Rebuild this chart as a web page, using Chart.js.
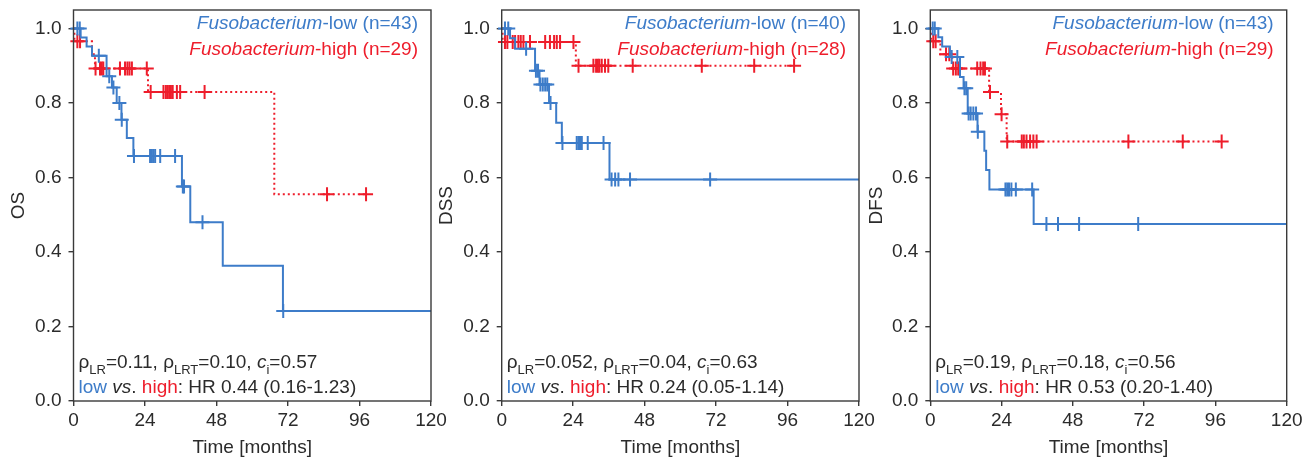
<!DOCTYPE html>
<html>
<head>
<meta charset="utf-8">
<script src="https://cdn.jsdelivr.net/npm/chart.js@4/dist/chart.umd.min.js"></script>
<style>
  html, body { margin: 0; padding: 0; background: #fff; }
  #wrap { position: relative; width: 1316px; height: 461px; }
  #wrap canvas { position: absolute; left: 0; top: 0; }
</style>
</head>
<body>
<div id="wrap">
  <canvas id="os" width="1316" height="461"></canvas>
  <canvas id="dss" width="1316" height="461"></canvas>
  <canvas id="dfs" width="1316" height="461"></canvas>
</div>
<script>
const blue = '#3d7cc9';
const red = '#ee1d2b';
const ink = '#2b2b2b';

const xTicks = [0, 24, 48, 72, 96, 120];
const yTicks = [0, 0.2, 0.4, 0.6, 0.8, 1.0];

// OS
const osLowT = [0, 2.4, 4.4, 6.2, 11.1, 12.9, 14.5, 16.1, 17.9, 20.1, 36.4, 39.2, 50.1, 70.3, 120];
const osLowS = [1, 0.976, 0.952, 0.927, 0.872, 0.842, 0.800, 0.755, 0.706, 0.658, 0.576, 0.480, 0.363, 0.242, 0.242];
const osLowCens = [1.3, 2.1, 8.5, 12.0, 13.4, 15.4, 16.2, 20.3, 25.7, 26.3, 26.8, 27.4, 29.1, 34.1, 36.7, 37.1, 43.3, 70.4];
const osHighT = [0, 0.3, 6.2, 7.2, 25.0, 67.4, 98.2];
const osHighS = [1, 0.966, 0.931, 0.893, 0.830, 0.555, 0.555];
const osHighCens = [1.3, 2.2, 7.4, 8.9, 9.5, 10.0, 15.6, 17.3, 18.1, 18.8, 19.6, 24.6, 25.9, 30.2, 31.0, 31.5, 32.1, 32.7, 33.3, 34.7, 35.8, 44.0, 85.1, 98.2];
const osN = ['43', '29'];
const osStats = ['0.11', '0.10', '0.57'];
const osHR = 'HR 0.44 (0.16-1.23)';

// DSS
const dssLowT = [0, 2.8, 4.5, 11.2, 12.7, 15.9, 18.3, 20.2, 36.2, 120];
const dssLowS = [1, 0.974, 0.946, 0.887, 0.850, 0.800, 0.747, 0.693, 0.595, 0.595];
const dssLowCens = [1.1, 2.2, 8.2, 11.5, 12.2, 13.0, 13.8, 14.6, 15.3, 16.4, 20.4, 25.2, 25.8, 26.3, 26.9, 28.9, 34.2, 36.9, 38.1, 39.2, 43.1, 70.0];
const dssHighT = [0, 0.3, 24.9, 98.2];
const dssHighS = [1, 0.964, 0.900, 0.900];
const dssHighCens = [1.1, 1.9, 3.7, 4.5, 5.6, 6.4, 7.3, 9.5, 14.6, 16.2, 17.6, 18.5, 19.6, 24.1, 25.8, 30.8, 31.7, 32.3, 32.8, 33.6, 34.7, 35.8, 44.0, 67.2, 84.8, 98.2];
const dssN = ['40', '28'];
const dssStats = ['0.052', '0.04', '0.63'];
const dssHR = 'HR 0.24 (0.05-1.14)';

// DFS
const dfsLowT = [0, 2.7, 4.0, 6.6, 10.0, 11.2, 12.6, 15.9, 18.2, 18.8, 19.9, 34.8, 120];
const dfsLowS = [1, 0.977, 0.952, 0.924, 0.870, 0.840, 0.772, 0.723, 0.672, 0.620, 0.568, 0.475, 0.475];
const dfsLowCens = [0.8, 1.5, 7.2, 9.1, 11.5, 12.1, 12.9, 13.6, 14.5, 15.4, 16.0, 25.3, 25.9, 26.5, 27.3, 28.8, 34.3, 39.1, 43.0, 50.1, 70.0];
const dfsHighT = [0, 0.3, 3.4, 7.4, 19.8, 23.8, 25.7, 98.1];
const dfsHighS = [1, 0.966, 0.931, 0.893, 0.830, 0.770, 0.697, 0.697];
const dfsHighCens = [1.0, 1.8, 5.3, 6.4, 7.7, 8.6, 9.4, 9.9, 15.8, 16.9, 17.8, 18.4, 20.1, 24.0, 25.9, 30.8, 31.5, 32.4, 33.6, 34.7, 35.8, 66.7, 85.0, 98.1];
const dfsN = ['43', '29'];
const dfsStats = ['0.19', '0.18', '0.56'];
const dfsHR = 'HR 0.53 (0.20-1.40)';

Chart.defaults.font.family = '"Liberation Sans", Arial, sans-serif';
Chart.defaults.font.size = 19;
Chart.defaults.color = ink;

function survAt(times, surv, t) {
  let v = surv[0];
  for (let i = 0; i < times.length; i++) {
    if (times[i] <= t) v = surv[i];
  }
  return v;
}

function font(size, italic) {
  return (italic ? 'italic ' : '') + size + 'px "Liberation Sans", Arial, sans-serif';
}

// draw a line made of pieces with their own font/colour/offset
function drawRich(ctx, x, y, segs, align) {
  let total = 0;
  segs.forEach(s => {
    ctx.font = font(s.size || 19, s.it);
    s.w = ctx.measureText(s.t).width;
    total += s.w;
  });
  let cx = align === 'right' ? x - total : x;
  segs.forEach(s => {
    ctx.font = font(s.size || 19, s.it);
    ctx.fillStyle = s.c || ink;
    ctx.fillText(s.t, cx, y + (s.dy || 0));
    cx += s.w;
  });
}

const kmDecor = {
  id: 'kmDecor',
  afterDatasetsDraw(chart, args, o) {
    const {ctx, chartArea: a} = chart;
    ctx.save();
    ctx.strokeStyle = '#3a3a3a';
    ctx.lineWidth = 1.4;
    ctx.strokeRect(a.left, a.top, a.right - a.left, a.bottom - a.top);
    ctx.textAlign = 'left';
    ctx.textBaseline = 'alphabetic';
    drawRich(ctx, a.right - 13, a.top + 18.5, [
      {t: 'Fusobacterium', it: true, c: blue},
      {t: '-low (n=' + o.n[0] + ')', c: blue}
    ], 'right');
    drawRich(ctx, a.right - 13, a.top + 45, [
      {t: 'Fusobacterium', it: true, c: red},
      {t: '-high (n=' + o.n[1] + ')', c: red}
    ], 'right');
    const sub = {size: 13, dy: 6};
    drawRich(ctx, a.left + 5, a.bottom - 33, [
      {t: 'ρ'}, Object.assign({t: 'LR'}, sub), {t: '=' + o.stats[0] + ', '},
      {t: 'ρ'}, Object.assign({t: 'LRT'}, sub), {t: '=' + o.stats[1] + ', '},
      {t: 'c', it: true}, Object.assign({t: 'i'}, sub), {t: '=' + o.stats[2]}
    ]);
    drawRich(ctx, a.left + 5, a.bottom - 8, [
      {t: 'low', c: blue}, {t: ' '}, {t: 'vs', it: true}, {t: '. '},
      {t: 'high', c: red}, {t: ': ' + o.hr}
    ]);
    ctx.restore();
  }
};

function makeKM(id, title, lowT, lowS, lowCens, highT, highS, highCens, n, stats, hr, geo) {
  const lowLine = lowT.map((t, i) => ({x: t, y: lowS[i]}));
  const highLine = highT.map((t, i) => ({x: t, y: highS[i]}));
  const lowMarks = lowCens.map(t => ({x: t, y: survAt(lowT, lowS, t)}));
  const highMarks = highCens.map(t => ({x: t, y: survAt(highT, highS, t)}));

  new Chart(document.getElementById(id), {
    type: 'line',
    data: {
      datasets: [
        {data: lowMarks, showLine: false, pointStyle: 'cross', pointRadius: 7,
         pointBorderWidth: 2, pointBorderColor: blue, borderColor: blue, clip: false},
        {data: lowLine, stepped: 'before', borderColor: blue, borderWidth: 2, pointRadius: 0, fill: false},
        {data: highMarks, showLine: false, pointStyle: 'cross', pointRadius: 7,
         pointBorderWidth: 2, pointBorderColor: red, borderColor: red, clip: false},
        {data: highLine, stepped: 'before', borderColor: red, borderWidth: 2, borderDash: [2, 3],
         pointRadius: 0, fill: false}
      ]
    },
    options: {
      responsive: false,
      animation: false,
      events: [],
      layout: {padding: {left: geo.padLeft, right: geo.padRight, top: 10, bottom: 0}},
      plugins: {
        legend: {display: false},
        tooltip: {enabled: false},
        kmDecor: {n: n, stats: stats, hr: hr}
      },
      scales: {
        x: {
          type: 'linear', min: 0, max: 120,
          afterBuildTicks: s => { s.ticks = xTicks.map(v => ({value: v})); },
          afterFit: s => { s.height = 60; s.paddingLeft = 0; s.paddingRight = 0; },
          ticks: {padding: 3, maxRotation: 0, autoSkip: false, callback: v => String(v), color: ink},
          grid: {drawOnChartArea: false, drawTicks: true, tickLength: 5, color: '#3a3a3a', lineWidth: 1.4},
          border: {display: false},
          title: {display: true, text: 'Time [months]', padding: {top: 0, bottom: 2}, color: ink}
        },
        y: {
          type: 'linear', min: 0, max: 1.05,
          afterBuildTicks: s => { s.ticks = yTicks.map(v => ({value: v})); },
          afterFit: s => { s.width = geo.yWidth; s.paddingTop = 0; s.paddingBottom = 0; },
          ticks: {padding: 7, callback: v => v.toFixed(1), color: ink},
          grid: {drawOnChartArea: false, drawTicks: true, tickLength: 5, color: '#3a3a3a', lineWidth: 1.4},
          border: {display: false},
          title: {display: true, text: title, padding: {top: 7, bottom: 0}, color: ink}
        }
      }
    },
    plugins: [kmDecor]
  });
}

makeKM('os', 'OS', osLowT, osLowS, osLowCens, osHighT, osHighS, osHighCens, osN, osStats, osHR,
  {padLeft: 0, yWidth: 73.5, padRight: 885});
makeKM('dss', 'DSS', dssLowT, dssLowS, dssLowCens, dssHighT, dssHighS, dssHighCens, dssN, dssStats, dssHR,
  {padLeft: 428.2, yWidth: 73.5, padRight: 457});
makeKM('dfs', 'DFS', dfsLowT, dfsLowS, dfsLowCens, dfsHighT, dfsHighS, dfsHighCens, dfsN, dfsStats, dfsHR,
  {padLeft: 858.6, yWidth: 71.7, padRight: 29.3});
</script>
</body>
</html>
